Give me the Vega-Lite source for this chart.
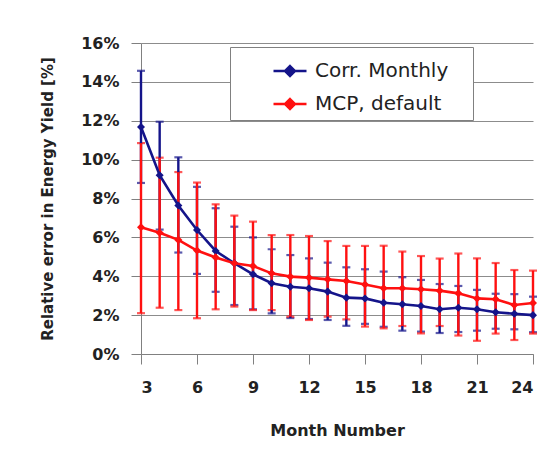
{
  "$schema": "https://vega.github.io/schema/vega-lite/v6.json",
  "width": 392,
  "height": 311,
  "autosize": {"type": "none"},
  "padding": {"left": 141, "top": 43, "right": 14, "bottom": 101},
  "background": "white",
  "config": {
    "view": {"stroke": null},
    "font": "DejaVu Sans",
    "axisY": {
      "values": [0, 2, 4, 6, 8, 10, 12, 14, 16],
      "labelExpr": "datum.value + '%'",
      "labelOverlap": false,
      "grid": true, "gridColor": "#8c8c8c", "gridWidth": 1,
      "domainColor": "#808080", "tickColor": "#808080",
      "tickSize": 10, "labelPadding": 12,
      "labelFont": "DejaVu Sans", "labelFontWeight": "bold", "labelFontSize": 16, "labelColor": "#222222",
      "titleFont": "DejaVu Sans", "titleFontWeight": "bold", "titleFontSize": 15, "titleColor": "#222222",
      "titlePadding": 25
    }
  },
  "data": {
    "values": [
      {"month": 3, "series": "Corr. Monthly", "mean": 11.68, "lo": 8.8, "hi": 14.57},
      {"month": 4, "series": "Corr. Monthly", "mean": 9.2, "lo": 6.4, "hi": 11.95},
      {"month": 5, "series": "Corr. Monthly", "mean": 7.64, "lo": 5.22, "hi": 10.12},
      {"month": 6, "series": "Corr. Monthly", "mean": 6.38, "lo": 4.12, "hi": 8.6},
      {"month": 7, "series": "Corr. Monthly", "mean": 5.3, "lo": 3.2, "hi": 7.5},
      {"month": 8, "series": "Corr. Monthly", "mean": 4.67, "lo": 2.52, "hi": 6.55},
      {"month": 9, "series": "Corr. Monthly", "mean": 4.1, "lo": 2.3, "hi": 6.0},
      {"month": 10, "series": "Corr. Monthly", "mean": 3.64, "lo": 2.09, "hi": 5.39},
      {"month": 11, "series": "Corr. Monthly", "mean": 3.46, "lo": 1.85, "hi": 5.09},
      {"month": 12, "series": "Corr. Monthly", "mean": 3.38, "lo": 1.8, "hi": 4.92},
      {"month": 13, "series": "Corr. Monthly", "mean": 3.21, "lo": 1.75, "hi": 4.7},
      {"month": 14, "series": "Corr. Monthly", "mean": 2.9, "lo": 1.45, "hi": 4.46},
      {"month": 15, "series": "Corr. Monthly", "mean": 2.86, "lo": 1.55, "hi": 4.36},
      {"month": 16, "series": "Corr. Monthly", "mean": 2.64, "lo": 1.4, "hi": 4.24},
      {"month": 17, "series": "Corr. Monthly", "mean": 2.56, "lo": 1.2, "hi": 3.95},
      {"month": 18, "series": "Corr. Monthly", "mean": 2.47, "lo": 1.15, "hi": 3.81},
      {"month": 19, "series": "Corr. Monthly", "mean": 2.3, "lo": 1.08, "hi": 3.6},
      {"month": 20, "series": "Corr. Monthly", "mean": 2.38, "lo": 1.13, "hi": 3.5},
      {"month": 21, "series": "Corr. Monthly", "mean": 2.3, "lo": 1.2, "hi": 3.3},
      {"month": 22, "series": "Corr. Monthly", "mean": 2.15, "lo": 1.3, "hi": 3.1},
      {"month": 23, "series": "Corr. Monthly", "mean": 2.07, "lo": 1.27, "hi": 3.08},
      {"month": 24, "series": "Corr. Monthly", "mean": 2.0, "lo": 1.12, "hi": 2.95},
      {"month": 3, "series": "MCP, default", "mean": 6.52, "lo": 2.1, "hi": 10.85},
      {"month": 4, "series": "MCP, default", "mean": 6.24, "lo": 2.38, "hi": 10.1},
      {"month": 5, "series": "MCP, default", "mean": 5.87, "lo": 2.26, "hi": 9.36},
      {"month": 6, "series": "MCP, default", "mean": 5.32, "lo": 1.84, "hi": 8.82},
      {"month": 7, "series": "MCP, default", "mean": 4.97, "lo": 2.3, "hi": 7.7},
      {"month": 8, "series": "MCP, default", "mean": 4.67, "lo": 2.44, "hi": 7.12},
      {"month": 9, "series": "MCP, default", "mean": 4.53, "lo": 2.26, "hi": 6.81},
      {"month": 10, "series": "MCP, default", "mean": 4.15, "lo": 2.26, "hi": 6.12},
      {"month": 11, "series": "MCP, default", "mean": 3.98, "lo": 1.92, "hi": 6.12},
      {"month": 12, "series": "MCP, default", "mean": 3.93, "lo": 1.75, "hi": 6.07},
      {"month": 13, "series": "MCP, default", "mean": 3.84, "lo": 1.92, "hi": 5.81},
      {"month": 14, "series": "MCP, default", "mean": 3.76, "lo": 1.78, "hi": 5.56},
      {"month": 15, "series": "MCP, default", "mean": 3.58, "lo": 1.41, "hi": 5.56},
      {"month": 16, "series": "MCP, default", "mean": 3.38, "lo": 1.32, "hi": 5.57},
      {"month": 17, "series": "MCP, default", "mean": 3.38, "lo": 1.44, "hi": 5.27},
      {"month": 18, "series": "MCP, default", "mean": 3.33, "lo": 1.06, "hi": 5.04},
      {"month": 19, "series": "MCP, default", "mean": 3.26, "lo": 1.44, "hi": 4.91},
      {"month": 20, "series": "MCP, default", "mean": 3.12, "lo": 0.95, "hi": 5.17},
      {"month": 21, "series": "MCP, default", "mean": 2.86, "lo": 0.68, "hi": 4.92},
      {"month": 22, "series": "MCP, default", "mean": 2.82, "lo": 1.05, "hi": 4.68},
      {"month": 23, "series": "MCP, default", "mean": 2.52, "lo": 0.72, "hi": 4.32},
      {"month": 24, "series": "MCP, default", "mean": 2.62, "lo": 1.05, "hi": 4.29}
    ]
  },
  "encoding": {
    "x": {
      "field": "month", "type": "quantitative",
      "scale": {"domain": [3, 24], "nice": false, "zero": false},
      "axis": {
        "title": "Month Number",
        "values": [3, 6, 9, 12, 15, 18, 21, 24],
        "grid": false,
        "domainColor": "#808080", "tickColor": "#808080",
        "tickSize": 10, "labelPadding": 15,
        "labelFont": "DejaVu Sans", "labelFontWeight": "bold", "labelFontSize": 16, "labelColor": "#222222",
        "titleFont": "DejaVu Sans", "titleFontWeight": "bold", "titleFontSize": 16, "titleColor": "#222222",
        "titlePadding": 27
      }
    },
    "color": {
      "field": "series", "type": "nominal",
      "scale": {"domain": ["Corr. Monthly", "MCP, default"], "range": ["#14148a", "#ff1010"]},
      "legend": {
        "orient": "none", "legendX": 89, "legendY": 4,
        "title": "\u00a0", "titleOrient": "right", "titlePadding": 19,
        "fillColor": "white", "strokeColor": "#808080",
        "padding": 6, "symbolOffset": 36, "labelOffset": 7,
        "symbolType": "M-1,0L1,0M0,-0.3L0.3,0L0,0.3L-0.3,0Z",
        "symbolSize": 1089, "symbolStrokeWidth": 2.5,
        "rowPadding": 5,
        "labelFont": "DejaVu Sans", "labelFontSize": 20, "labelColor": "#222222",
        "encode": {"symbols": {"update": {"fill": {"field": "value", "scale": "color"}}}}
      }
    }
  },
  "layer": [
    {
      "mark": {"type": "errorbar", "ticks": {"size": 8, "thickness": 2.2}, "thickness": 2.4},
      "encoding": {
        "y": {
          "field": "lo", "type": "quantitative",
          "scale": {"domain": [0, 16], "nice": false},
          "title": "Relative error in Energy Yield [%]"
        },
        "y2": {"field": "hi"}
      }
    },
    {
      "mark": {"type": "line", "strokeWidth": 2.6},
      "encoding": {"y": {"field": "mean", "type": "quantitative"}}
    },
    {
      "mark": {"type": "point", "shape": "diamond", "filled": true, "size": 65, "opacity": 1},
      "encoding": {"y": {"field": "mean", "type": "quantitative"}}
    }
  ]
}
